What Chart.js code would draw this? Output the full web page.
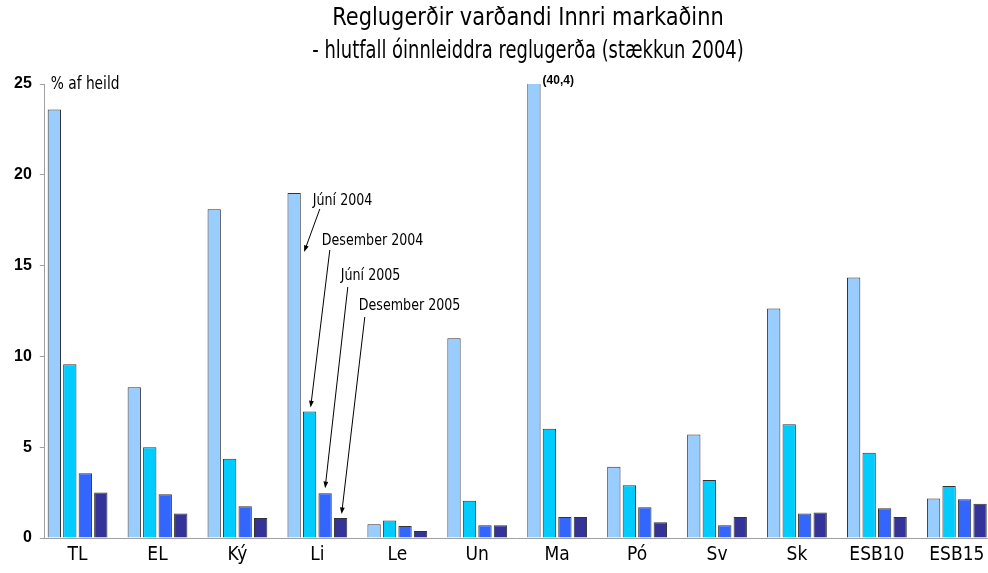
<!DOCTYPE html>
<html>
<head>
<meta charset="utf-8">
<script src="https://cdn.jsdelivr.net/npm/chart.js@4/dist/chart.umd.min.js"></script>
<style>
    html, body { margin: 0; padding: 0; background: #fff; overflow: hidden; }
    #wrap { width: 988px; height: 573px; position: relative; }
</style>
</head>
<body>
<div id="wrap"><canvas id="chart"></canvas></div>
<script>
const categories = ['TL', 'EL', 'Ký', 'Li', 'Le', 'Un', 'Ma', 'Pó', 'Sv', 'Sk', 'ESB10', 'ESB15'];
const seriesNames = ['Júní 2004', 'Desember 2004', 'Júní 2005', 'Desember 2005'];
const jun2004 = [23.6, 8.3, 18.1, 19.0, 0.76, 11.0, 40.4, 3.93, 5.7, 12.64, 14.35, 2.17];
const des2004 = [9.57, 5.0, 4.37, 6.97, 0.96, 2.05, 6.01, 2.9, 3.19, 6.27, 4.7, 2.86];
const jun2005 = [3.56, 2.41, 1.75, 2.47, 0.66, 0.7, 1.16, 1.7, 0.7, 1.35, 1.64, 2.14];
const des2005 = [2.51, 1.35, 1.1, 1.1, 0.39, 0.7, 1.16, 0.87, 1.16, 1.4, 1.16, 1.88];
const yMax = 25;
const yStep = 5;
const titleLines = ['Reglugerðir varðandi Innri markaðinn', '- hlutfall óinnleiddra reglugerða (stækkun 2004)'];
const unitLabel = '% af heild';
const cutValueLabel = '(40,4)';

const narrow = "'Liberation Sans Narrow', 'Arial Narrow', 'DejaVu Sans Condensed', sans-serif";
const colors = ['#99ccff', '#00ccff', '#3366ff', '#333399'];
const axisColor = '#a0a0a0';

const series = [jun2004, des2004, jun2005, des2005];

// arrows pointing at the Li bars; positions relative to chart area top-left
const notes = [
    { ds: 0, tx: 268, ty: 117, sx: 275, sy: 125, tipDx: 10, tipDy: 59 },
    { ds: 1, tx: 277, ty: 157, sx: 285, sy: 166, tipDx: 1, tipDy: -4 },
    { ds: 2, tx: 296, ty: 192, sx: 303, sy: 203, tipDx: 0, tipDy: -5 },
    { ds: 3, tx: 314, ty: 222, sx: 320, sy: 233, tipDx: 1, tipDy: -4 },
];
const noteIndex = categories.indexOf('Li');
const cutIndex = categories.indexOf('Ma');

// the installed condensed font is wider than the original, so squeeze it a bit
const squeezed = (ctx, text, x, y, sx) => {
    ctx.save();
    ctx.translate(x, y);
    ctx.scale(sx, 1);
    ctx.fillText(text, 0, 0);
    ctx.restore();
};

const arrow = (ctx, x1, y1, x2, y2) => {
    const a = Math.atan2(y2 - y1, x2 - x1);
    const len = 7;
    ctx.beginPath();
    ctx.moveTo(x1, y1);
    ctx.lineTo(x2 - Math.cos(a) * 3, y2 - Math.sin(a) * 3);
    ctx.stroke();
    ctx.beginPath();
    ctx.moveTo(x2, y2);
    ctx.lineTo(x2 - len * Math.cos(a - 0.35), y2 - len * Math.sin(a - 0.35));
    ctx.lineTo(x2 - len * Math.cos(a + 0.35), y2 - len * Math.sin(a + 0.35));
    ctx.closePath();
    ctx.fill();
};

const extras = {
    id: 'extras',
    afterDraw(chart) {
        const { ctx, chartArea } = chart;
        ctx.save();
        ctx.fillStyle = '#000';
        ctx.strokeStyle = '#000';
        ctx.lineWidth = 1;

        // title
        ctx.textAlign = 'center';
        ctx.textBaseline = 'middle';
        ctx.font = `24px ${narrow}`;
        squeezed(ctx, titleLines[0], 528, 19, 0.97);
        squeezed(ctx, titleLines[1], 528, 52, 0.83);

        // unit label
        ctx.textAlign = 'left';
        ctx.font = `17px ${narrow}`;
        squeezed(ctx, unitLabel, chartArea.left + 6, chartArea.top + 1, 0.9);

        // value of the cut-off bar
        const cut = chart.getDatasetMeta(0).data[cutIndex];
        ctx.font = 'bold 12px "Liberation Sans", Arial, sans-serif';
        ctx.fillText(cutValueLabel, cut.x + cut.width / 2 + 2, chartArea.top - 3);

        // arrow notes
        ctx.font = `16px ${narrow}`;
        notes.forEach((n) => {
            const bar = chart.getDatasetMeta(n.ds).data[noteIndex];
            squeezed(ctx, seriesNames[n.ds], chartArea.left + n.tx, chartArea.top + n.ty, 0.88);
            arrow(ctx, chartArea.left + n.sx, chartArea.top + n.sy, bar.x + n.tipDx, bar.y + n.tipDy);
        });
        ctx.restore();
    },
};

new Chart(document.getElementById('chart'), {
    type: 'bar',
    data: {
        datasets: series.map((values, d) => ({
            label: seriesNames[d],
            data: values.map((v, i) => ({ x: i, y: v })),
            backgroundColor: colors[d],
            borderColor: '#333',
            borderWidth: 1,
            categoryPercentage: 0.775,
            barPercentage: 0.86,
        })),
    },
    options: {
        responsive: true,
        maintainAspectRatio: false,
        animation: false,
        layout: { padding: { top: 84, left: 6, right: 0, bottom: 8 } },
        scales: {
            x: {
                type: 'linear',
                offset: false,
                min: -0.41,
                max: 11.39,
                grid: { display: false },
                border: { color: axisColor },
                ticks: {
                    stepSize: 1,
                    includeBounds: false,
                    autoSkip: false,
                    maxRotation: 0,
                    color: '#000',
                    font: { family: narrow, size: 19, lineHeight: 1 },
                    padding: 0,
                    callback: (v) => (Number.isInteger(v) ? categories[v] : ''),
                },
            },
            y: {
                min: 0,
                max: yMax,
                grid: { drawOnChartArea: false, color: axisColor, tickLength: 5 },
                border: { color: axisColor },
                ticks: {
                    stepSize: yStep,
                    color: '#000',
                    padding: 8,
                    font: { family: '"Liberation Sans", Arial, sans-serif', size: 16, weight: 'bold' },
                },
            },
        },
        plugins: {
            legend: { display: false },
            tooltip: { enabled: false },
        },
    },
    plugins: [extras],
});
</script>
</body>
</html>
